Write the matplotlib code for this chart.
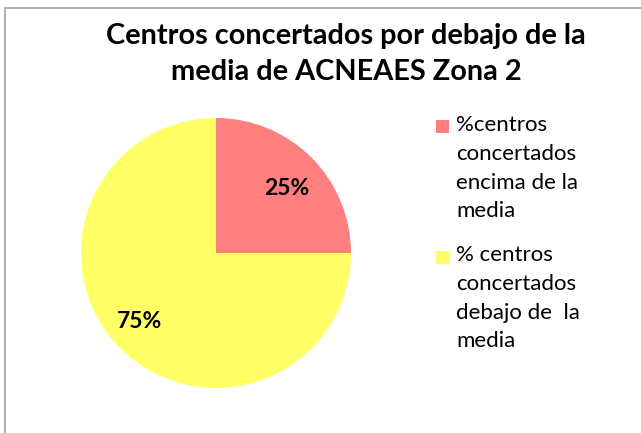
import matplotlib
matplotlib.use("Agg")
import matplotlib.pyplot as plt
from matplotlib.patches import Rectangle

labels = ["%centros\nconcertados\nencima de la\nmedia", "% centros\nconcertados\ndebajo de  la\nmedia"]
values = [25, 75]
colors = ["#FF7F7F", "#FFFF66"]
title = "Centros concertados por debajo de la\nmedia de ACNEAES Zona 2"

plt.rcParams['font.family'] = ['Lato', 'DejaVu Sans']

W, H = 641, 433
fig = plt.figure(figsize=(W/100, H/100), dpi=100)

# border
fig.patches.append(Rectangle((5/W, -0.1), 1.2, (H-8)/H + 0.1, transform=fig.transFigure,
                             fill=False, edgecolor="#A0A0A0", linewidth=1.2))

cx, cy, r = 216, 253, 135
ax = fig.add_axes([(cx-r)/W, (H-cy-r)/H, 2*r/W, 2*r/H])
wedges, texts, autotexts = ax.pie(values, colors=colors, startangle=90, counterclock=False,
                                  autopct='%1.0f%%', pctdistance=0.74,
                                  wedgeprops=dict(linewidth=0),
                                  textprops=dict(fontsize=16.5, fontweight='bold', color='black'))
autotexts[0].set_position((0.526, 0.48))
autotexts[1].set_position((-0.563, -0.511))
ax.set_xlim(-1, 1); ax.set_ylim(-1, 1)
ax.set_aspect('equal')

fig.text(346/W, 1-54/H, title, ha='center', va='center', fontsize=20.8, fontweight='bold',
         linespacing=1.45)

# legend (manual to align handle with first line)
entry_y = [127, 257]
for wdg, lab, y in zip(wedges, labels, entry_y):
    fig.patches.append(Rectangle((436/W, 1-(y+6.5)/H), 13/W, 13/H, transform=fig.transFigure,
                                 facecolor=wdg.get_facecolor(), edgecolor='none'))
    fig.text(456/W, 1-(y-12)/H, lab, ha='left', va='top', fontsize=16, linespacing=1.55)

fig.savefig("out.png", dpi=100)
